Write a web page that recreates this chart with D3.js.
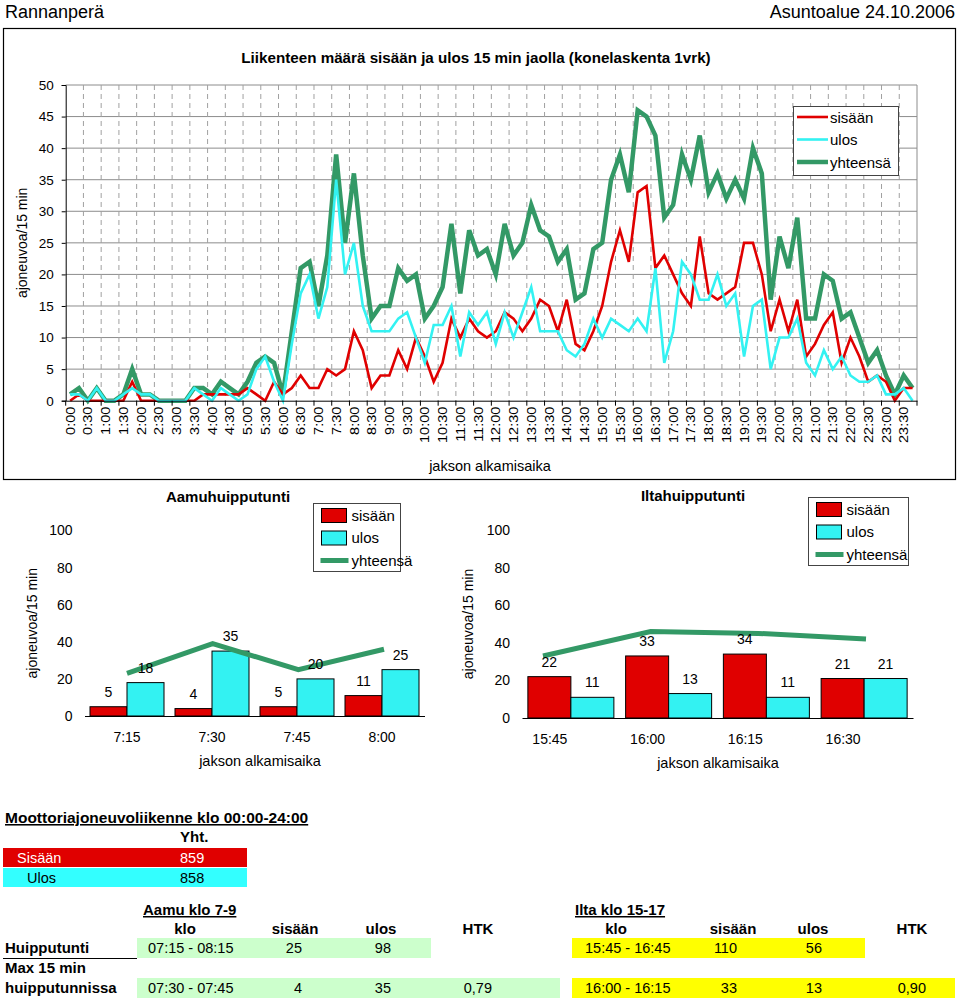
<!DOCTYPE html>
<html><head><meta charset="utf-8">
<script src="https://cdnjs.cloudflare.com/ajax/libs/d3/7.8.5/d3.min.js"></script>
<style>body{margin:0;background:#fff}svg{display:block}text{font-family:"Liberation Sans",Arial,sans-serif;fill:#000}</style>
</head><body><svg id="c" width="960" height="1004"></svg>
<script>
// ---------- DATA ----------
const times = ["0:00","0:15","0:30","0:45","1:00","1:15","1:30","1:45","2:00","2:15","2:30","2:45","3:00","3:15","3:30","3:45","4:00","4:15","4:30","4:45","5:00","5:15","5:30","5:45","6:00","6:15","6:30","6:45","7:00","7:15","7:30","7:45","8:00","8:15","8:30","8:45","9:00","9:15","9:30","9:45","10:00","10:15","10:30","10:45","11:00","11:15","11:30","11:45","12:00","12:15","12:30","12:45","13:00","13:15","13:30","13:45","14:00","14:15","14:30","14:45","15:00","15:15","15:30","15:45","16:00","16:15","16:30","16:45","17:00","17:15","17:30","17:45","18:00","18:15","18:30","18:45","19:00","19:15","19:30","19:45","20:00","20:15","20:30","20:45","21:00","21:15","21:30","21:45","22:00","22:15","22:30","22:45","23:00","23:15","23:30","23:45"];
const sisaan = [0,1,0,0,0,0,0,3,0,0, 0,0,0,0,0,1,1,1,1,1, 2,1,0,3,1,2,4,2,2,5, 4,5,11,8,2,4,4,8,5,10, 7,3,6,13,10,13,11,10,11,14, 13,11,13,16,15,11,16,9,8,11, 15,22,27,22,33,34,21,23,20,17, 15,26,17,16,17,18,25,25,20,11, 16,11,16,7,9,12,14,6,10,7, 3,4,3,0,2,2];
const ulos = [1,1,0,2,0,0,1,2,1,1, 0,0,0,0,2,1,0,2,1,0, 1,5,7,3,0,9,17,20,13,18, 35,20,25,15,11,11,11,13,14,10, 6,12,12,15,7,14,12,14,9,14, 10,14,18,11,11,11,8,7,9,13, 10,13,12,11,13,11,21,6,11,22, 20,16,16,20,15,17,7,15,16,5, 10,10,13,6,4,8,5,7,4,3, 3,4,1,1,2,0];
const yhteensa = [1,2,0,2,0,0,1,5,1,1, 0,0,0,0,2,2,1,3,2,1, 3,6,7,6,1,11,21,22,15,23, 39,25,36,23,13,15,15,21,19,20, 13,15,18,28,17,27,23,24,20,28, 23,25,31,27,26,22,24,16,17,24, 25,35,39,33,46,45,42,29,31,39, 35,42,33,36,32,35,32,40,36,16, 26,21,29,13,13,20,19,13,14,10, 6,8,4,1,4,2];
const yTicksMain = [0,5,10,15,20,25,30,35,40,45,50];
const seriesNames = ["sisään","ulos","yhteensä"];

const aamuCats = ["7:15","7:30","7:45","8:00"];
const aamuSisaan = [5,4,5,11];
const aamuUlos = [18,35,20,25];
const aamuYht = [23,39,25,36];
const iltaCats = ["15:45","16:00","16:15","16:30"];
const iltaSisaan = [22,33,34,21];
const iltaUlos = [11,13,11,21];
const iltaYht = [33,46,45,42];
const peakTicks = [0,20,40,60,80,100];

const totalRows = [["Sisään","859"],["Ulos","858"]];
const tableHead = ["klo","sisään","ulos","HTK"];
const aamuRows = [["07:15 - 08:15","25","98",""],["07:30 - 07:45","4","35","0,79"]];
const iltaRows = [["15:45 - 16:45","110","56",""],["16:00 - 16:15","33","13","0,90"]];

// ---------- STYLE ----------
const RED="#e00000", CYAN="#33f2f2", GREEN="#339966";
const svg = d3.select("#c");
svg.append("rect").attr("width",960).attr("height",1004).attr("fill","#fff");

// header
svg.append("text").attr("x",5).attr("y",18).attr("font-size",18).text("Rannanperä");
svg.append("text").attr("x",955).attr("y",18).attr("font-size",18).attr("text-anchor","end").text("Asuntoalue 24.10.2006");

// ---------- MAIN CHART ----------
svg.append("rect").attr("x",3.5).attr("y",28.5).attr("width",952).attr("height",451).attr("fill","none").attr("stroke","#000").attr("stroke-width",1.2);
svg.append("text").attr("x",476).attr("y",63).attr("font-size",15.2).attr("font-weight","bold").attr("text-anchor","middle")
  .text("Liikenteen määrä sisään ja ulos 15 min jaolla (konelaskenta 1vrk)");

const L=65.7, R=917, T=85, B=400.7;
const x = d3.scaleBand().domain(d3.range(times.length)).range([L,R]);
const xc = i => x(i)+x.bandwidth()/2;
const y = d3.scaleLinear().domain([0,50]).range([B,T]);

const g = svg.append("g");
g.selectAll(".hg").data(yTicksMain.filter(d=>d>0)).join("line")
  .attr("x1",L).attr("x2",R).attr("y1",d=>y(d)).attr("y2",d=>y(d)).attr("stroke","#8c8c8c").attr("stroke-width",1);
g.selectAll(".vg").data(d3.range(2,times.length,2)).join("line")
  .attr("x1",i=>x(i)).attr("x2",i=>x(i)).attr("y1",T).attr("y2",B)
  .attr("stroke","#a0a0a0").attr("stroke-width",1).attr("stroke-dasharray","5,4");
g.append("line").attr("x1",R).attr("x2",R).attr("y1",T).attr("y2",B).attr("stroke","#8c8c8c");

const line = d3.line().x((d,i)=>xc(i)).y(d=>y(d));
g.append("path").datum(yhteensa).attr("d",line).attr("fill","none").attr("stroke",GREEN).attr("stroke-width",4.5);
g.append("path").datum(sisaan).attr("d",line).attr("fill","none").attr("stroke",RED).attr("stroke-width",2.6);
g.append("path").datum(ulos).attr("d",line).attr("fill","none").attr("stroke",CYAN).attr("stroke-width",2.6);

const yAxis = d3.axisLeft(y).tickValues(yTicksMain).tickSize(4).tickPadding(8);
const ya = svg.append("g").attr("transform",`translate(${L},0)`).call(yAxis);
ya.select(".domain").attr("stroke","#000");
ya.selectAll("text").attr("font-size",13.5).attr("font-family","Liberation Sans, Arial, sans-serif");
const xAxis = d3.axisBottom(x).tickValues([]).tickSize(0);
const xa = svg.append("g").attr("transform",`translate(0,${B})`).call(xAxis);
xa.select(".domain").attr("stroke","#000");
xa.selectAll(".tk").data(d3.range(0,times.length+1,2)).join("line")
  .attr("x1",i=>i<times.length?x(i):R).attr("x2",i=>i<times.length?x(i):R).attr("y1",0).attr("y2",5).attr("stroke","#000");
xa.selectAll(".tl").data(d3.range(0,times.length,2)).join("text")
  .attr("transform",i=>`translate(${xc(i)+4.6},6) rotate(-90) scale(1,0.88)`)
  .attr("text-anchor","end").attr("font-size",14.5).text(i=>times[i]);

svg.append("text").attr("transform",`translate(27,${(T+B)/2}) rotate(-90)`).attr("text-anchor","middle").attr("font-size",14).text("ajoneuvoa/15 min");
svg.append("text").attr("x",490).attr("y",471).attr("text-anchor","middle").attr("font-size",14.5).text("jakson alkamisaika");

const lg = svg.append("g");
lg.append("rect").attr("x",793.5).attr("y",106.5).attr("width",105).attr("height",69).attr("fill","#fff").attr("stroke","#444");
const mcols=[RED,CYAN,GREEN], mw=[2.6,2.6,4.5];
seriesNames.forEach((n,k)=>{
  const yy = 117+k*22.5;
  lg.append("line").attr("x1",797).attr("x2",828).attr("y1",yy).attr("y2",yy).attr("stroke",mcols[k]).attr("stroke-width",mw[k]);
  lg.append("text").attr("x",830).attr("y",yy+5.5).attr("font-size",15).text(n);
});

// ---------- PEAK CHARTS ----------
function peak(cfg){
  const pg = svg.append("g");
  const xb = d3.scaleBand().domain(cfg.cats).range([cfg.L,cfg.R]);
  const xi = d3.scaleBand().domain([0,1]).range([0,cfg.barW*2]);
  const xl = d3.scalePoint().domain(cfg.cats).range(cfg.lineRange);
  const yy = d3.scaleLinear().domain([0,100]).range([cfg.B,cfg.T]);
  pg.append("text").attr("x",cfg.titleX).attr("y",cfg.T-29).attr("font-size",15).attr("font-weight","bold").attr("text-anchor","middle").text(cfg.title);
  const vals=[cfg.s,cfg.u], cols=[RED,CYAN];
  const bx = (i,k)=>xb(cfg.cats[i])+xb.bandwidth()/2 - cfg.barW + xi(k);
  vals.forEach((arr,k)=>{
    pg.selectAll(null).data(arr).join("rect")
      .attr("x",(d,i)=>bx(i,k)).attr("y",d=>yy(d)).attr("width",cfg.barW).attr("height",d=>cfg.B-yy(d))
      .attr("fill",cols[k]).attr("stroke","#000").attr("stroke-width",1);
  });
  const ya = pg.append("g").attr("transform",`translate(${cfg.L},0)`).call(d3.axisLeft(yy).tickValues(peakTicks).tickSize(0).tickPadding(12));
  ya.select(".domain").remove();
  ya.selectAll("text").attr("font-size",14).attr("font-family","Liberation Sans, Arial, sans-serif");
  const xa = pg.append("g").attr("transform",`translate(0,${cfg.B})`).call(d3.axisBottom(xb).tickSize(0).tickPadding(16));
  xa.select(".domain").attr("stroke","#000");
  xa.selectAll("text").attr("font-size",14).attr("font-family","Liberation Sans, Arial, sans-serif").attr("dx",cfg.labShift);
  const ln = d3.line().x((d,i)=>xl(cfg.cats[i])).y(d=>yy(d));
  pg.append("path").datum(cfg.t).attr("d",ln).attr("fill","none").attr("stroke",GREEN).attr("stroke-width",5);
  vals.forEach((arr,k)=>{
    pg.selectAll(null).data(arr).join("text")
      .attr("x",(d,i)=>bx(i,k)+cfg.barW/2)
      .attr("y",d=>yy(d)-10).attr("text-anchor","middle").attr("font-size",14).text(d=>d);
  });
  pg.append("text").attr("transform",`translate(${cfg.axX},${(cfg.T+cfg.B)/2}) rotate(-90)`).attr("text-anchor","middle").attr("font-size",14).text("ajoneuvoa/15 min");
  pg.append("text").attr("x",cfg.xtX).attr("y",cfg.B+50).attr("text-anchor","middle").attr("font-size",14.5).text("jakson alkamisaika");
  const lx=cfg.lgX, ly=cfg.lgY;
  pg.append("rect").attr("x",lx).attr("y",ly).attr("width",cfg.lgW).attr("height",68).attr("fill","#fff").attr("stroke","#444");
  seriesNames.forEach((n,k)=>{
    const cy = ly+12+k*22.5;
    if(k<2) pg.append("rect").attr("x",lx+8).attr("y",cy-7).attr("width",25).attr("height",14).attr("fill",cols[k]).attr("stroke","#000");
    else pg.append("line").attr("x1",lx+7).attr("x2",lx+35).attr("y1",cy).attr("y2",cy).attr("stroke",GREEN).attr("stroke-width",5);
    pg.append("text").attr("x",lx+38).attr("y",cy+5).attr("font-size",15).text(n);
  });
}
peak({cats:aamuCats,s:aamuSisaan,u:aamuUlos,t:aamuYht,L:84.5,R:424.5,T:530.5,B:716,barW:37,labShift:0,lineRange:[127,384],
  title:"Aamuhuipputunti",titleX:228,axX:37,xtX:260,lgX:313.5,lgY:503.5,lgW:87});
peak({cats:iltaCats,s:iltaSisaan,u:iltaUlos,t:iltaYht,L:522,R:913,T:530,B:718,barW:43,labShift:-21,lineRange:[543,866],
  title:"Iltahuipputunti",titleX:693,axX:473,xtX:718,lgX:808.5,lgY:497.5,lgW:100});

// ---------- TABLE ----------
const tb = svg.append("g").attr("font-size",14);
const bold = (x,y,t,fs)=>tb.append("text").attr("x",x).attr("y",y).attr("font-weight","bold").attr("font-size",fs||15).text(t);
bold(5,823,"Moottoriajoneuvoliikenne klo 00:00-24:00",15.5).attr("text-decoration","underline");
bold(180,842,"Yht.");
const tcols=[RED,"#33ffff"];
totalRows.forEach((r,k)=>{
  tb.append("rect").attr("x",3).attr("y",848+k*20).attr("width",244).attr("height",19).attr("fill",tcols[k]);
  tb.append("text").attr("x",k===0?17:27).attr("y",863+k*20).attr("font-size",14.5).style("fill",k===0?"#fff":"#000").text(r[0]);
  tb.append("text").attr("x",180).attr("y",863+k*20).attr("font-size",14.5).style("fill",k===0?"#fff":"#000").text(r[1]);
});
bold(143,915,"Aamu klo 7-9").attr("text-decoration","underline");
bold(575,915,"Ilta klo 15-17").attr("text-decoration","underline");
const hxA=[185,295,381,478], hxI=[616,733,813,912];
tableHead.forEach((h,k)=>{
  bold(hxA[k],934,h).attr("text-anchor","middle");
  bold(hxI[k],934,h).attr("text-anchor","middle");
});
bold(5,953,"Huipputunti");
tb.append("line").attr("x1",3).attr("x2",137).attr("y1",958.5).attr("y2",958.5).attr("stroke","#000");
bold(5,973,"Max 15 min");
bold(5,993,"huipputunnissa");
const rowY=[938,978];
const aW=[294,423], iW=[293,383];
aamuRows.forEach((r,k)=>{
  tb.append("rect").attr("x",137).attr("y",rowY[k]).attr("width",aW[k]).attr("height",20).attr("fill","#ccffcc");
  tb.append("text").attr("x",148).attr("y",rowY[k]+15).attr("font-size",14.5).text(r[0]);
  tb.append("text").attr("x",302).attr("y",rowY[k]+15).attr("font-size",14.5).attr("text-anchor","end").text(r[1]);
  tb.append("text").attr("x",391).attr("y",rowY[k]+15).attr("font-size",14.5).attr("text-anchor","end").text(r[2]);
  tb.append("text").attr("x",492).attr("y",rowY[k]+15).attr("font-size",14.5).attr("text-anchor","end").text(r[3]);
});
iltaRows.forEach((r,k)=>{
  tb.append("rect").attr("x",572).attr("y",rowY[k]).attr("width",iW[k]).attr("height",20).attr("fill","#ffff00");
  tb.append("text").attr("x",585).attr("y",rowY[k]+15).attr("font-size",14.5).text(r[0]);
  tb.append("text").attr("x",737).attr("y",rowY[k]+15).attr("font-size",14.5).attr("text-anchor","end").text(r[1]);
  tb.append("text").attr("x",822).attr("y",rowY[k]+15).attr("font-size",14.5).attr("text-anchor","end").text(r[2]);
  tb.append("text").attr("x",926).attr("y",rowY[k]+15).attr("font-size",14.5).attr("text-anchor","end").text(r[3]);
});
</script></body></html>
